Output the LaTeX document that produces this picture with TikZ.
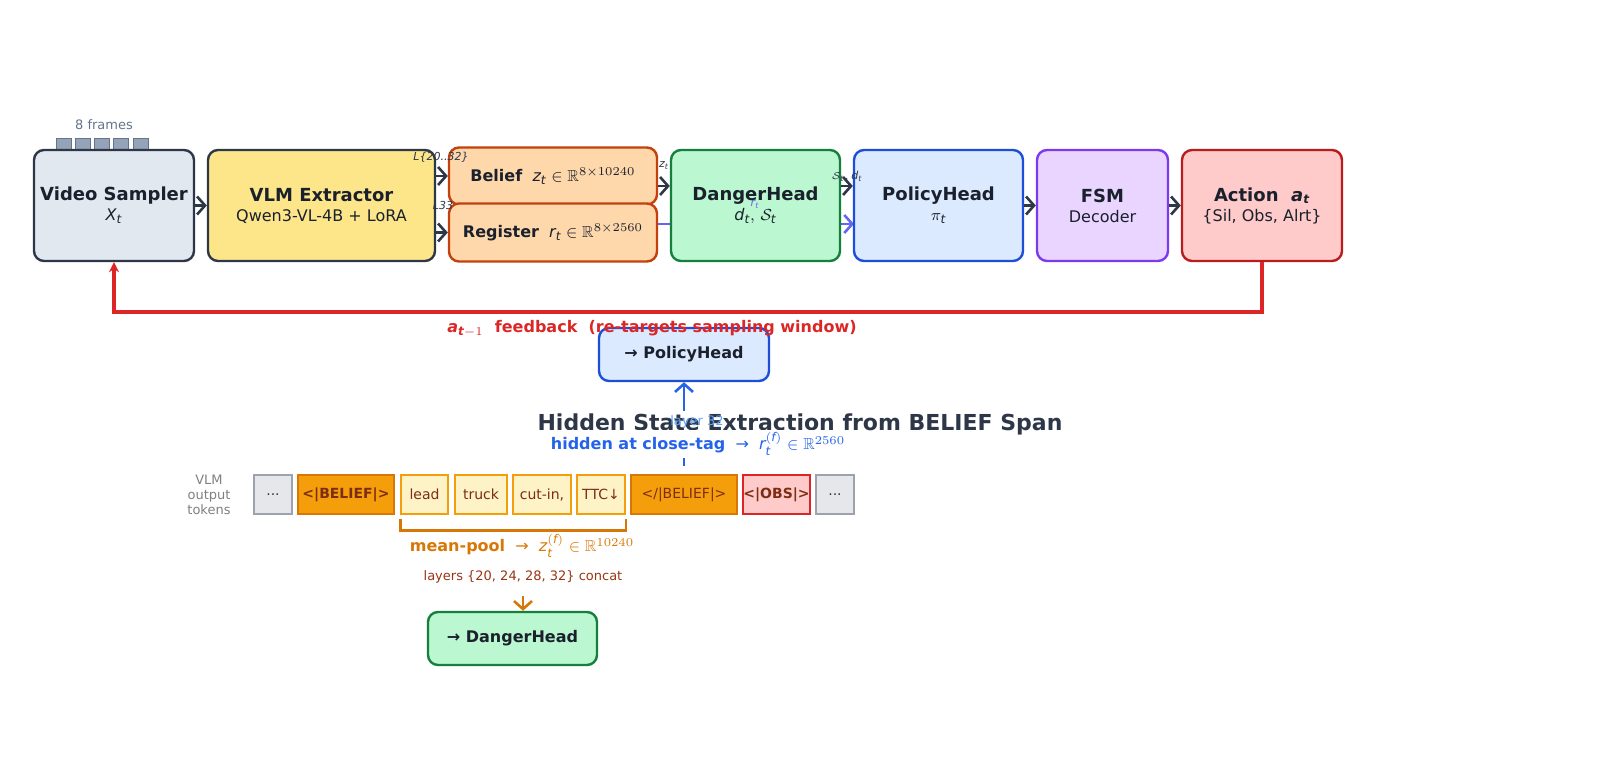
\documentclass[tikz,border=0pt]{standalone}
\usepackage{fontspec}
\setmainfont{DejaVu Sans}
\usepackage{amsmath,amssymb}
\usetikzlibrary{arrows.meta,calc}
\newcommand{\mi}[1]{\textit{#1}}
\definecolor{dk}{HTML}{2D3748}
\definecolor{txt}{HTML}{1A202C}
\definecolor{cE2E8F0}{HTML}{E2E8F0}
\definecolor{cFDE68A}{HTML}{FDE68A}
\definecolor{cC2410C}{HTML}{C2410C}
\definecolor{cFED7AA}{HTML}{FED7AA}
\definecolor{c6366F1}{HTML}{6366F1}
\definecolor{c15803D}{HTML}{15803D}
\definecolor{cBBF7D0}{HTML}{BBF7D0}
\definecolor{c1D4ED8}{HTML}{1D4ED8}
\definecolor{cDBEAFE}{HTML}{DBEAFE}
\definecolor{c7C3AED}{HTML}{7C3AED}
\definecolor{cE9D5FF}{HTML}{E9D5FF}
\definecolor{cB91C1C}{HTML}{B91C1C}
\definecolor{cFECACA}{HTML}{FECACA}
\definecolor{cDC2626}{HTML}{DC2626}
\definecolor{c9CA3AF}{HTML}{9CA3AF}
\definecolor{cE5E7EB}{HTML}{E5E7EB}
\definecolor{cD97706}{HTML}{D97706}
\definecolor{cF59E0B}{HTML}{F59E0B}
\definecolor{cFEF3C7}{HTML}{FEF3C7}
\definecolor{c7C2D12}{HTML}{7C2D12}
\definecolor{c9A3412}{HTML}{9A3412}
\definecolor{c2563EB}{HTML}{2563EB}
\definecolor{c60A5FA}{HTML}{60A5FA}
\definecolor{cFrame}{HTML}{94A3B8}
\definecolor{cFrameD}{HTML}{64748B}
\tikzset{
 box/.style={draw=#1, line width=1.2pt, rounded corners=5pt, align=center, inner sep=0pt, text=txt},
 tok/.style={draw=#1, line width=0.8pt, minimum height=19.5pt, inner sep=0pt, font=\fontsize{7}{8}\selectfont},
 arr/.style={draw=dk, line width=1.3pt, -{Straight Barb[length=4pt,width=9pt,line width=1.3pt]}},
 lbl/.style={font=\fontsize{5.5}{6}\selectfont\itshape, text=dk, inner sep=0.5pt},
}
\begin{document}
\begin{tikzpicture}[x=0.5pt,y=-0.5pt]
% frames
\foreach \x in {56,75,94,113,133} \fill[fill=cFrame, draw=cFrameD, line width=0.3pt] (\x,138) rectangle ++(15,12);
\node[font=\fontsize{6.5}{7}\selectfont, text=cFrameD] (fr) at (104,125) {8 frames};
% boxes
\node[box=dk, fill=cE2E8F0, minimum width=80pt, minimum height=55.5pt] (vs) at (114,205.5) {\bfseries\fontsize{9}{10}\selectfont Video Sampler\\[-2pt]\fontsize{8}{9}\selectfont $\mi{X}_{\mi{t}}$};
\node[box=dk, fill=cFDE68A, minimum width=113.5pt, minimum height=55.5pt] (vlm) at (321.5,205.5) {\bfseries\fontsize{9}{10}\selectfont VLM Extractor\\[-2pt]\fontsize{8}{9}\selectfont Qwen3-VL-4B + LoRA};
\node[box=cC2410C, fill=cFED7AA, minimum width=104pt, minimum height=28.5pt] (bel) at (553,176) {\fontsize{8}{9}\selectfont\textbf{Belief}\ \ $\mi{z}_{\mi{t}}\in\mathbb{R}^{8\times10240}$};
\node[box=cC2410C, fill=cFED7AA, minimum width=104pt, minimum height=29pt] (reg) at (553,232.5) {\fontsize{8}{9}\selectfont\textbf{Register}\ \ $\mi{r}_{\mi{t}}\in\mathbb{R}^{8\times2560}$};
\draw[line width=1.3pt, draw=c6366F1, -{Straight Barb[length=4pt,width=9pt,line width=1.3pt]}] (reg.east|-0,224) -- (854,224);
\node[box=c15803D, fill=cBBF7D0, minimum width=84.5pt, minimum height=55.5pt] (dh) at (755.5,205.5) {\bfseries\fontsize{9}{10}\selectfont DangerHead\\[-2pt]\fontsize{8}{9}\selectfont $\mi{d}_{\mi{t}},\,\mathcal{S}_{\mi{t}}$};
\node[box=c1D4ED8, fill=cDBEAFE, minimum width=84.5pt, minimum height=55.5pt] (ph) at (938.5,205.5) {\bfseries\fontsize{9}{10}\selectfont PolicyHead\\[-2pt]\fontsize{8}{9}\selectfont $\pi_{\mi{t}}$};
\node[box=c7C3AED, fill=cE9D5FF, minimum width=65.5pt, minimum height=55.5pt] (fsm) at (1102.5,205.5) {\bfseries\fontsize{9}{10}\selectfont FSM\\[-2pt]\fontsize{8}{9}\selectfont Decoder};
\node[box=cB91C1C, fill=cFECACA, minimum width=80pt, minimum height=55.5pt] (act) at (1262,205.5) {\bfseries\fontsize{9}{10}\selectfont Action\ \ $\mi{a}_{\mi{t}}$\\[-2pt]\fontsize{8}{9}\selectfont \{Sil, Obs, Alrt\}};
% arrows
\draw[arr] (vs.east) -- (vlm.west);
\draw[arr] (vlm.east|-bel.west) -- (bel.west);
\draw[arr] (vlm.east|-reg.west) -- (reg.west);
\draw[arr] (bel.east|-0,186) -- (dh.west|-0,186);
\draw[arr] (dh.east|-0,186) -- (ph.west|-0,186);
\draw[arr] (ph.east) -- (fsm.west);
\draw[arr] (fsm.east) -- (act.west);
\node[lbl] (l1) at (441,157) {L\{20..32\}};
\node[lbl] (l2) at (443,206) {L33};
\node[lbl] (l3) at (664,166) {$\mi{z}_{\mi{t}}$};
\node[lbl] (l4) at (847,176) {$\mathcal{S}_{\mi{t}},\mi{d}_{\mi{t}}$};
\node[lbl, text=c6366F1] (l5) at (755,204) {$\mi{r}_{\mi{t}}$};
% feedback
\draw[line width=1.6pt, draw=cDC2626, -{Stealth[length=5pt,width=5pt]}] (act.south) -- (1262,312) -- (114,312) -- (vs.south);
% lower
\node[box=c1D4ED8, fill=cDBEAFE, minimum width=85pt, minimum height=26.5pt] (ph2) at (684,354.5) {\bfseries\fontsize{8}{9}\selectfont → PolicyHead};
\node[font=\fontsize{8}{9}\selectfont\bfseries, text=cDC2626] (fb) at (652,329) {$\mi{a}_{\mi{t}-1}$\ \ feedback\ \ (re-targets sampling window)};
\node[box=c15803D, fill=cBBF7D0, minimum width=84.5pt, minimum height=26.5pt] (dh2) at (512.5,638.5) {\bfseries\fontsize{8}{9}\selectfont → DangerHead};
% tokens
\node[tok=c9CA3AF, fill=cE5E7EB, minimum width=19pt, text=dk] (t0) at (273,494.5) {...};
\node[tok=cD97706, fill=cF59E0B, minimum width=48pt, text=c7C2D12] (t1) at (346,494.5) {\bfseries <|BELIEF|>};
\node[tok=cF59E0B, fill=cFEF3C7, minimum width=23.5pt, text=c7C2D12] (t2) at (424.5,494.5) {lead};
\node[tok=cF59E0B, fill=cFEF3C7, minimum width=26pt, text=c7C2D12] (t3) at (481,494.5) {truck};
\node[tok=cF59E0B, fill=cFEF3C7, minimum width=29pt, text=c7C2D12] (t4) at (542,494.5) {cut-in,};
\node[tok=cF59E0B, fill=cFEF3C7, minimum width=24pt, text=c7C2D12] (t5) at (601,494.5) {TTC↓};
\node[tok=cD97706, fill=cF59E0B, minimum width=53pt, text=c7C2D12] (t6) at (684,494.5) {</|BELIEF|>};
\node[tok=cDC2626, fill=cFECACA, minimum width=33.5pt, text=c7C2D12] (t7) at (776.5,494.5) {\bfseries <|OBS|>};
\node[tok=c9CA3AF, fill=cE5E7EB, minimum width=19pt, text=dk] (t8) at (835,494.5) {...};
\node[font=\fontsize{6.5}{7.5}\selectfont, text=gray, align=center] (vl) at (209,494.5) {VLM\\output\\tokens};
% bracket
\draw[draw=cD97706, line width=1.3pt] ($(t2.south west)+(0,4)$) -- ++(0,12) -| ($(t5.south east)+(0,4)$);
\node[font=\fontsize{8}{9}\selectfont, text=cD97706] (mp) at (522,546) {\textbf{mean-pool}\ \ →\ \ $\mi{z}_{\mi{t}}^{(\mi{f})}\in\mathbb{R}^{10240}$};
\node[font=\fontsize{6.5}{7.5}\selectfont, text=c9A3412] (ly) at (523,577) {layers \{20, 24, 28, 32\} concat};
\draw[draw=cD97706, line width=1.3pt, -{Straight Barb[length=4pt,width=9pt,line width=1.3pt]}] (523,596) -- (dh2.north-|523,0);
% close tag arrow
\draw[draw=c2563EB, line width=1.3pt, -{Straight Barb[length=4pt,width=9pt,line width=1.3pt]}] ($(t6.north)+(0,-8)$) -- (ph2.south);
\node[fill=white, inner sep=1pt, font=\fontsize{11}{12}\selectfont\bfseries, text=dk] (ti) at (800,424) {Hidden State Extraction from BELIEF Span};
\node[fill=white, inner sep=1pt, font=\fontsize{8}{9}\selectfont, text=c2563EB] (hc) at (698,444) {\textbf{hidden at close-tag}\ \ →\ \ $\mi{r}_{\mi{t}}^{(\mi{f})}\in\mathbb{R}^{2560}$};
\node[font=\fontsize{6.5}{7}\selectfont, text=c60A5FA] (l32) at (697,422) {layer 32};
\pgfresetboundingbox
\path[use as bounding box] (0,0) rectangle (1600,763);
\end{tikzpicture}
\end{document}
